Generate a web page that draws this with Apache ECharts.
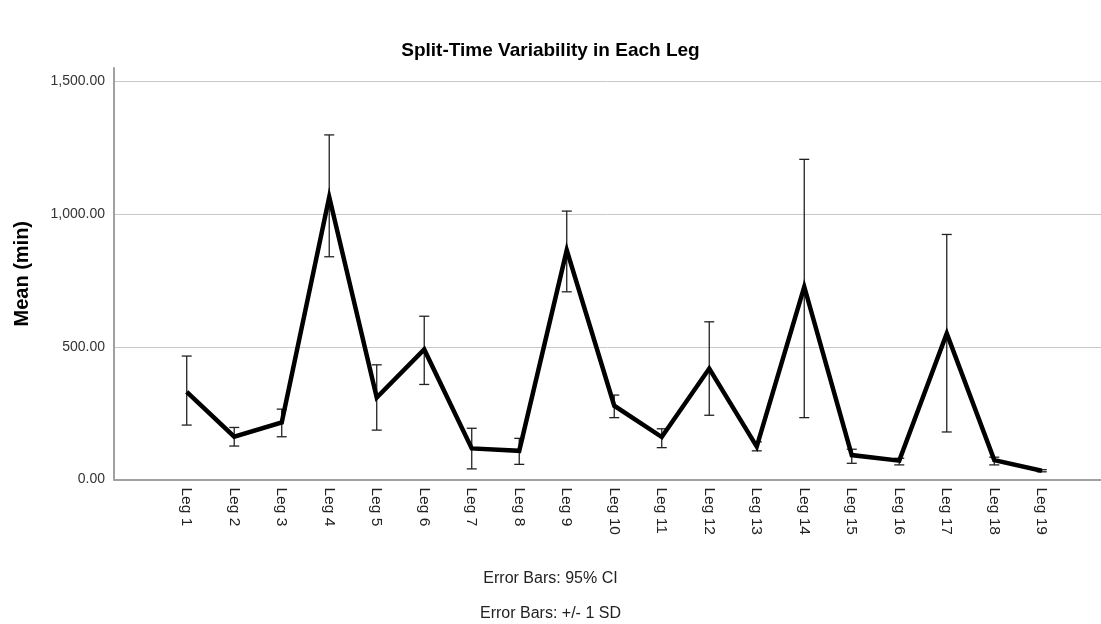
<!DOCTYPE html>
<html>
<head>
<meta charset="utf-8">
<script src="https://cdn.jsdelivr.net/npm/echarts@6/dist/echarts.min.js"></script>
<style>
html,body{margin:0;padding:0;background:#fff;}
#chart{width:1101px;height:624px;}
</style>
</head>
<body>
<div id="chart"></div>
<script>
var legs = ['Leg 1','Leg 2','Leg 3','Leg 4','Leg 5','Leg 6','Leg 7','Leg 8','Leg 9','Leg 10','Leg 11','Leg 12','Leg 13','Leg 14','Leg 15','Leg 16','Leg 17','Leg 18','Leg 19'];
var means = [330,161,215,1064,309,490,117,108,864,278,160,418,124,726,92,71,550,73,33];
var lower = [205,126,161,839,186,358,40,57,707,233,120,242,108,233,61,55,179,55,29];
var upper = [465,196,265,1298,432,615,193,155,1011,318,191,594,142,1206,114,80,923,84,37];
var yTicks = [0,500,1000,1500];
var footnotes = ['Error Bars: 95% CI','Error Bars: +/- 1 SD'];

var positions = legs.map(function(_, i){ return i + 1; });
var lineData = means.map(function(m, i){ return [positions[i], m]; });
var errData = means.map(function(m, i){ return [positions[i], lower[i], upper[i]]; });

var chart = echarts.init(document.getElementById('chart'), null, {renderer:'canvas'});
var font = 'Liberation Sans, Arial, sans-serif';
chart.setOption({
  animation:false,
  backgroundColor:'#fff',
  title:{
    text:'Split-Time Variability in Each Leg',
    left:'center', top:36,
    textStyle:{fontFamily:font, fontSize:19, fontWeight:'bold', color:'#000'}
  },
  grid:{left:114, right:0, top:68, bottom:144.5, containLabel:false},
  xAxis:{
    type:'value', min:-0.531, max:20.247,
    axisLine:{show:true, onZero:false, lineStyle:{color:'#a0a0a0', width:2}},
    axisTick:{show:false},
    splitLine:{show:false},
    axisLabel:{
      customValues: positions,
      rotate:-90, margin:8,
      fontFamily:font, fontSize:15.5, color:'#222',
      formatter:function(v){ var k = Math.round(v); return legs[k-1] || ''; }
    }
  },
  yAxis:{
    type:'value', min:0, max:1550, interval:500,
    name:'Mean (min)', nameLocation:'middle', nameGap:82, nameRotate:90,
    nameTextStyle:{fontFamily:font, fontSize:20, fontWeight:'bold', color:'#000'},
    axisLine:{show:true, onZero:false, lineStyle:{color:'#a0a0a0', width:2}},
    axisTick:{show:false},
    splitLine:{show:true, showMaxLine:false, lineStyle:{color:'#c8c8c8', width:1}},
    axisLabel:{
      customValues: yTicks,
      fontFamily:font, fontSize:14, color:'#333', margin:9,
      formatter:function(v){ return v.toLocaleString('en-US',{minimumFractionDigits:2, maximumFractionDigits:2}); }
    }
  },
  graphic:[
    {type:'text', left:'center', top:571, style:{text:footnotes[0], font:'16px '+font, fill:'#222'}},
    {type:'text', left:'center', top:606, style:{text:footnotes[1], font:'16px '+font, fill:'#222'}}
  ],
  series:[
    {
      type:'custom', z:1,
      data: errData,
      renderItem:function(params, api){
        var x = api.value(0);
        var lo = api.coord([x, api.value(1)]);
        var hi = api.coord([x, api.value(2)]);
        var w = 5;
        var st = {stroke:'#222', lineWidth:1.3};
        return {type:'group', children:[
          {type:'line', shape:{x1:lo[0], y1:lo[1], x2:hi[0], y2:hi[1]}, style:st},
          {type:'line', shape:{x1:lo[0]-w, y1:lo[1], x2:lo[0]+w, y2:lo[1]}, style:st},
          {type:'line', shape:{x1:hi[0]-w, y1:hi[1], x2:hi[0]+w, y2:hi[1]}, style:st}
        ]};
      }
    },
    {
      type:'line', z:3,
      data: lineData,
      symbol:'none',
      lineStyle:{color:'#000', width:4.5, join:'miter'},
      itemStyle:{color:'#000'}
    }
  ]
});
</script>
</body>
</html>
